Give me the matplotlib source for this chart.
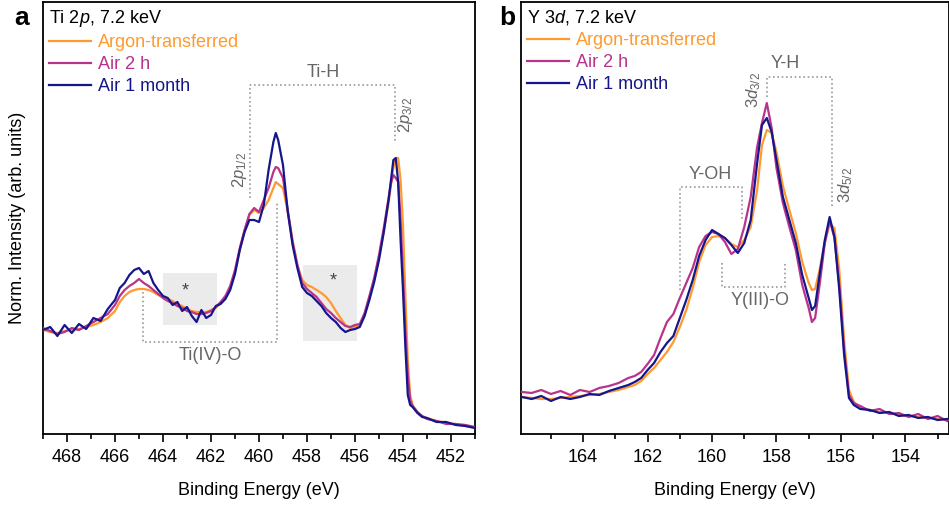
import numpy as np
import matplotlib
matplotlib.use("Agg")
import matplotlib.pyplot as plt
from matplotlib.patches import Rectangle
from matplotlib.ticker import MultipleLocator

plt.rcParams['font.family'] = ['Liberation Sans', 'DejaVu Sans']
plt.rcParams['mathtext.fontset'] = 'custom'
plt.rcParams['mathtext.rm'] = 'Liberation Sans'
plt.rcParams['mathtext.it'] = 'Liberation Sans:italic'

# ---- Ti 2p (panel a), arb. units ----
energy_a = [469.0, 468.7, 468.4, 468.1, 467.8, 467.5, 467.2, 466.9, 466.6, 466.3,
            466.0, 465.8, 465.6, 465.4, 465.2, 465.0, 464.8, 464.6, 464.4, 464.2,
            464.0, 463.8, 463.6, 463.4, 463.2, 463.0, 462.8, 462.6, 462.4, 462.2,
            462.0, 461.8, 461.6, 461.4, 461.2, 461.0, 460.8, 460.6, 460.4, 460.2,
            460.0, 459.8, 459.6, 459.4, 459.3, 459.2, 459.0, 458.8, 458.6, 458.4,
            458.2, 458.0, 457.8, 457.6, 457.4, 457.2, 457.0, 456.8, 456.6, 456.4,
            456.2, 456.0, 455.8, 455.6, 455.4, 455.2, 455.0, 454.8, 454.6, 454.5,
            454.4, 454.3, 454.2, 454.1, 454.0, 453.9, 453.8, 453.7, 453.6, 453.4,
            453.2, 453.0, 452.6, 452.2, 451.8, 451.4, 451.0]
argon_a = [104, 102, 101, 103, 104, 105, 107, 109, 112, 116,
           123, 132, 138, 142, 144, 145, 145, 144, 142, 139,
           137, 135, 133, 130, 128, 125, 123, 122, 122, 122,
           124, 126, 131, 136, 146, 162, 184, 204, 219, 224,
           221, 226, 234, 246, 252, 250, 246, 222, 194, 169,
           154, 149, 147, 144, 141, 137, 131, 123, 116, 109,
           106, 107, 109, 119, 136, 154, 176, 202, 231, 249,
           266, 276, 276, 254, 209, 139, 74, 39, 29, 22,
           18, 16, 13, 11, 10, 8, 6]
air2h_a = [106, 103, 100, 102, 106, 104, 108, 112, 116, 120,
           129, 138, 144, 148, 151, 155, 151, 148, 144, 140,
           136, 133, 131, 128, 126, 123, 122, 120, 120, 121,
           123, 127, 132, 138, 148, 164, 186, 204, 220, 226,
           222, 234, 246, 262, 267, 266, 256, 224, 192, 169,
           151, 145, 141, 137, 131, 125, 121, 116, 112, 108,
           107, 109, 110, 121, 138, 156, 179, 206, 236, 251,
           259, 256, 252, 214, 159, 104, 59, 34, 28, 22,
           18, 15, 13, 10, 10, 9, 7]
air1m_a = [104, 107, 98, 109, 101, 110, 105, 116, 113, 125,
           134, 146, 151, 159, 164, 166, 160, 163, 151, 144,
           138, 136, 129, 132, 123, 127, 118, 112, 124, 116,
           119, 128, 130, 135, 144, 160, 184, 202, 214, 214,
           212, 229, 264, 292, 301, 294, 269, 222, 189, 166,
           147, 141, 138, 133, 128, 121, 116, 112, 106, 102,
           104, 105, 107, 118, 134, 152, 174, 202, 234, 254,
           274, 276, 252, 194, 144, 87, 39, 29, 27, 21,
           17, 16, 12, 12, 9, 8, 6]

# ---- Y 3d (panel b), arb. units ----
energy_b = [165.9, 165.6, 165.3, 165.0, 164.7, 164.4, 164.1, 163.8, 163.5, 163.2,
            162.9, 162.6, 162.4, 162.2, 162.0, 161.8, 161.6, 161.4, 161.2, 161.0,
            160.8, 160.6, 160.4, 160.2, 160.0, 159.8, 159.6, 159.4, 159.2, 159.0,
            158.8, 158.6, 158.45, 158.3, 158.15, 158.0, 157.8, 157.6, 157.4, 157.2,
            157.0, 156.9, 156.8, 156.65, 156.5, 156.35, 156.2, 156.05, 155.9, 155.75,
            155.6, 155.4, 155.1, 154.8, 154.5, 154.2, 153.9, 153.6, 153.3, 153.0, 152.7]
argon_b = [37, 36, 35, 35, 36, 37, 38, 39, 40, 42,
           44, 47, 49, 53, 60, 66, 74, 82, 92, 107,
           124, 146, 172, 189, 197, 198, 196, 190, 187, 194,
           207, 244, 289, 304, 301, 282, 248, 224, 201, 172,
           151, 144, 145, 166, 191, 210, 206, 164, 94, 44,
           32, 26, 24, 22, 21, 19, 18, 17, 16, 15, 14]
air2h_b = [42, 41, 44, 40, 43, 39, 44, 42, 46, 48,
           51, 56, 58, 62, 70, 79, 96, 112, 120, 136,
           151, 166, 187, 198, 202, 200, 192, 180, 185, 207,
           237, 287, 311, 331, 306, 266, 231, 207, 184, 149,
           126, 112, 116, 152, 191, 214, 196, 149, 84, 39,
           31, 28, 23, 25, 20, 21, 17, 20, 15, 18, 13]
air1m_b = [37, 35, 38, 33, 37, 35, 37, 40, 39, 43,
           46, 49, 52, 56, 64, 71, 82, 91, 98, 116,
           134, 154, 178, 194, 204, 200, 196, 189, 181, 191,
           214, 271, 309, 316, 302, 274, 237, 214, 191, 159,
           136, 124, 128, 162, 194, 217, 197, 144, 79, 36,
           29, 25, 24, 21, 22, 18, 19, 16, 17, 14, 15]

series_labels = ['Argon-transferred', 'Air 2 h', 'Air 1 month']
series_colors = ['#ff9a2e', '#b8338c', '#16168c']

gray_text = '#666666'
gray_line = '#9a9a9a'

fig = plt.figure(figsize=(9.49, 5.08), dpi=100)
ax1 = fig.add_axes([0.0453, 0.1457, 0.4552, 0.8503])
ax2 = fig.add_axes([0.549, 0.1457, 0.4515, 0.8503])


def style_axis(ax, xlim):
    ax.set_xlim(*xlim)
    ax.set_ylim(0, 432)
    ax.set_yticks([])
    ax.xaxis.set_major_locator(MultipleLocator(2))
    ax.xaxis.set_minor_locator(MultipleLocator(1))
    ax.tick_params(axis='x', which='major', direction='out', length=6, width=1.2,
                   labelsize=13, pad=5)
    ax.tick_params(axis='x', which='minor', direction='out', length=3.5, width=1.2)
    for s in ax.spines.values():
        s.set_linewidth(1.3)
    ax.set_xlabel('Binding Energy (eV)', fontsize=13, labelpad=11)


def bracket(ax, pts):
    xs = [p[0] for p in pts]
    ys = [p[1] for p in pts]
    ax.plot(xs, ys, ls=(0, (1, 1.6)), color=gray_line, lw=1.2, zorder=1)


def draw_series(ax, e, vals, title):
    handles = []
    for v, lab, c in zip(vals, series_labels, series_colors):
        h, = ax.plot(e, v, color=c, lw=1.6, label=lab, zorder=3)
        handles.append(h)
    leg = ax.legend(handles=handles, loc='upper left', bbox_to_anchor=(0.0, 1.0),
                    frameon=False, fontsize=13, title=title, title_fontsize=13,
                    alignment='left', handlelength=2.3, handletextpad=0.4,
                    labelspacing=0.27, borderaxespad=0.35, borderpad=0.0,
                    labelcolor='linecolor')
    return leg


# ---- panel a ----
style_axis(ax1, (469, 451))
ax1.set_ylabel('Norm. Intensity (arb. units)', fontsize=13, labelpad=12)
ax1.add_patch(Rectangle((461.75, 109), 2.25, 52, color='#ebebeb', zorder=0, lw=0))
ax1.add_patch(Rectangle((455.92, 93), 2.25, 76, color='#ebebeb', zorder=0, lw=0))
ax1.text(463.08, 143, '*', ha='center', va='center', fontsize=13, color='#444444')
ax1.text(456.92, 153, '*', ha='center', va='center', fontsize=13, color='#444444')
draw_series(ax1, energy_a, [argon_a, air2h_a, air1m_a], 'Ti 2$p$, 7.2 keV')

bracket(ax1, [(460.375, 236), (460.375, 349), (454.33, 349), (454.33, 292)])
ax1.text(457.33, 362, 'Ti-H', ha='center', va='center', fontsize=13, color=gray_text)
ax1.text(460.8, 264, '2$p_{1/2}$', rotation=90, ha='center', va='center',
         fontsize=12, color=gray_text)
ax1.text(453.9, 319, '2$p_{3/2}$', rotation=90, ha='center', va='center',
         fontsize=12, color=gray_text)
bracket(ax1, [(464.83, 142), (464.83, 92), (459.25, 92), (459.25, 231)])
ax1.text(462.04, 78, 'Ti(IV)-O', ha='center', va='center', fontsize=13, color=gray_text)
fig.text(0.023, 0.965, 'a', fontsize=19, fontweight='bold', ha='center', va='center')

# ---- panel b ----
style_axis(ax2, (165.93, 152.63))
draw_series(ax2, energy_b, [argon_b, air2h_b, air1m_b], 'Y 3$d$, 7.2 keV')

bracket(ax2, [(158.29, 337), (158.29, 357), (156.27, 357), (156.27, 226)])
ax2.text(157.73, 371, 'Y-H', ha='center', va='center', fontsize=13, color=gray_text)
ax2.text(158.72, 344, '3$d_{3/2}$', rotation=90, ha='center', va='center',
         fontsize=12, color=gray_text)
ax2.text(155.86, 249, '3$d_{5/2}$', rotation=90, ha='center', va='center',
         fontsize=12, color=gray_text)
bracket(ax2, [(160.99, 144), (160.99, 247), (159.06, 247), (159.06, 214)])
ax2.text(160.06, 260, 'Y-OH', ha='center', va='center', fontsize=13, color=gray_text)
bracket(ax2, [(159.68, 171), (159.68, 147), (157.73, 147), (157.73, 171)])
ax2.text(158.5, 133, 'Y(III)-O', ha='center', va='center', fontsize=13, color=gray_text)
fig.text(0.535, 0.965, 'b', fontsize=19, fontweight='bold', ha='center', va='center')

fig.savefig('out.png', dpi=100)
